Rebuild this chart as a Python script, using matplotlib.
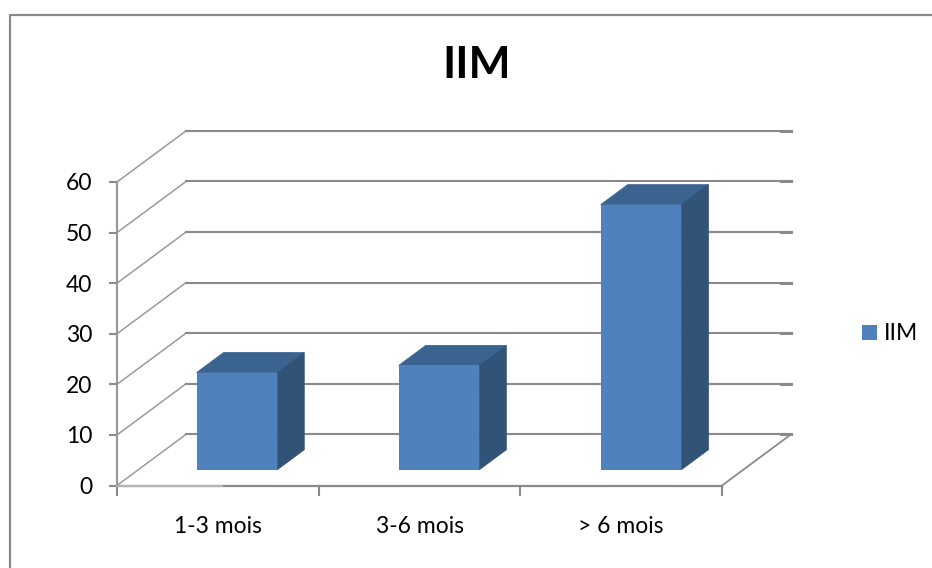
import matplotlib
matplotlib.use('Agg')
import matplotlib.pyplot as plt
from matplotlib.patches import Polygon

categories = ['1-3 mois', '3-6 mois', '> 6 mois']
values = [19.2, 20.6, 52.4]
y_ticks = [0, 10, 20, 30, 40, 50, 60]
series_name = 'IIM'

plt.rcParams['font.family'] = ['Lato', 'DejaVu Sans']

W, H = 932, 568
GRID = '#8a8a8a'
FRONT = '#4f81bd'
TOP = '#3b6390'
SIDE = '#325378'

# depth of the floor, in data units
DX = 0.342
DY = 10.1
BAR_W = 0.4
BAR_SHIFT = 0.095  # bars sit right of the category centre
BAR_STEP = 1.002
BAR_FLOOR = 0.31   # bars start this far back on the floor
BAR_DEPTH = 0.39

fig = plt.figure(figsize=(W / 100, H / 100), dpi=100)
ax = fig.add_axes([117 / W, 1 - 485.5 / H, 605 / W, 303.5 / H])
ax.set_xlim(0, 3)
ax.set_ylim(0, 60)
ax.set_facecolor('none')
for s in ax.spines.values():
    s.set_visible(False)

# outer frame of the chart area, cut by the bottom and right edges
fig.add_artist(plt.Line2D([9.5 / W, 9.5 / W, 1],
                          [0, 1 - 14.5 / H, 1 - 14.5 / H],
                          color=GRID, lw=1.6))

# gridlines run along the side wall then the back wall
for v in y_ticks:
    ax.plot([0, DX], [v, v + DY], color='#9a9a9a', lw=1.1, clip_on=False, zorder=1)
    ax.plot([DX, 3 + DX], [v + DY, v + DY], color=GRID, lw=1.5, clip_on=False, zorder=1)
    # small end stub on the right
    ax.plot([3 + DX - 0.05, 3 + DX], [v + DY, v + DY], color=GRID, lw=2.2, clip_on=False, zorder=1)

# floor edge on the right and front axes
ax.plot([3, 3 + DX], [0, DY], color=GRID, lw=1.3, clip_on=False, zorder=1)
ax.plot([0, 0], [0, 60], color='#969696', lw=1.5, clip_on=False, zorder=2)
ax.plot([0, 3], [0, 0], color=GRID, lw=1.6, clip_on=False, zorder=2)
ax.plot([0, 0.52], [0, 0], color='#b4b4b4', lw=1.6, clip_on=False, zorder=3)

ax.set_xticks([0, 1, 2, 3])
ax.set_xticklabels([])
ax.set_xticks([0.5, 1.5, 2.5], minor=True)
ax.set_xticklabels(categories, minor=True, fontsize=16.5, color='black')
ax.tick_params(axis='x', which='major', length=7, width=1.5, color=GRID)
ax.tick_params(axis='x', which='minor', length=0, pad=22)
ax.set_yticks(y_ticks)
ax.tick_params(axis='y', length=6, width=1.5, color=GRID, labelsize=16.5, pad=12)

# bars: front face from the library, top and side from the same values
positions = [i * BAR_STEP + 0.5 + BAR_SHIFT for i in range(len(values))]
floor = BAR_FLOOR * DY
ax.bar(positions, values, width=BAR_W, bottom=floor, color=FRONT, label=series_name,
       linewidth=0, zorder=5, clip_on=False)
for x, v in zip(positions, values):
    l, r = x - BAR_W / 2, x + BAR_W / 2
    t = floor + v
    ddx, ddy = BAR_DEPTH * DX, BAR_DEPTH * DY
    ax.add_patch(Polygon([(l, t), (r, t), (r + ddx, t + ddy), (l + ddx, t + ddy)],
                         closed=True, facecolor=TOP, edgecolor=TOP, lw=0.6, zorder=4, clip_on=False))
    ax.add_patch(Polygon([(r, floor), (r, t), (r + ddx, t + ddy), (r + ddx, floor + ddy)],
                         closed=True, facecolor=SIDE, edgecolor=SIDE, lw=0.6, zorder=4, clip_on=False))

fig.text(477 / W, 1 - 65 / H, series_name, fontsize=32, fontweight='bold',
         ha='center', va='center', color='black')

fig.legend(handles=ax.get_legend_handles_labels()[0], labels=[series_name],
           loc='center left', bbox_to_anchor=(862 / W, 1 - 334 / H), frameon=False,
           fontsize=16.5, handlelength=0.66, handleheight=0.66, handletextpad=0.3,
           borderpad=0, borderaxespad=0)

fig.savefig('out.png', dpi=100)
